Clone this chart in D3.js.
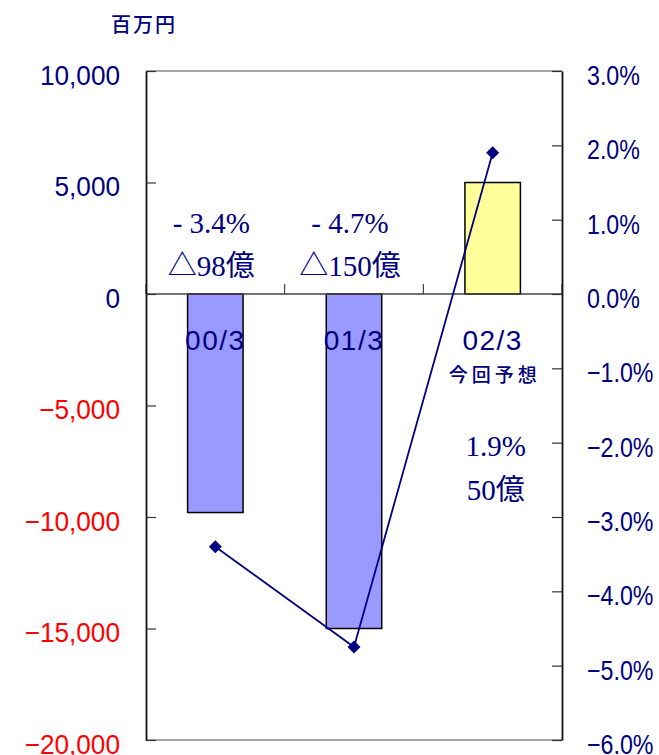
<!DOCTYPE html>
<html><head><meta charset="utf-8">
<script src="https://cdn.jsdelivr.net/npm/d3@7"></script>
<style>
body{margin:0;background:#fff;}
svg{display:block;}
</style></head>
<body>
<script>
// ---- data ----
const categories = ["00/3", "01/3", "02/3"];
const subLabels = ["", "", "今回予想"];
const profit = [-9800, -15000, 5000];          // 百万円
const ratio = [-3.4, -4.75, 1.9];               // %
const rateLabels = ["- 3.4%", "- 4.7%", "1.9%"];
const amountLabels = ["△98億", "△150億", "50億"];
const leftTicks = [10000, 5000, 0, -5000, -10000, -15000, -20000];
const rightTicks = [3, 2, 1, 0, -1, -2, -3, -4, -5, -6];
const barColors = ["#9999FF", "#9999FF", "#FFFF99"];

// ---- layout ----
const W = 659, H = 755;
const L = 146, R = 562, T = 71, B = 740;
const navy = "#000080";

const svg = d3.select("body").append("svg").attr("width", W).attr("height", H);

const x = d3.scaleBand().domain(categories).range([L, R]).paddingInner(0.6).paddingOuter(0.3);
const y = d3.scaleLinear().domain([-20000, 10000]).range([B, T]);
const y2 = d3.scaleLinear().domain([-6, 3]).range([B, T]);

// plot frame top/bottom
svg.append("line").attr("x1", L).attr("x2", R).attr("y1", T).attr("y2", T).attr("stroke", "#888").attr("stroke-width", 1.5);
svg.append("line").attr("x1", L).attr("x2", R).attr("y1", B).attr("y2", B).attr("stroke", "#888").attr("stroke-width", 1.5);

// bars
svg.selectAll("rect.bar").data(profit).join("rect").attr("class", "bar")
  .attr("x", (d, i) => x(categories[i]))
  .attr("width", x.bandwidth())
  .attr("y", d => y(Math.max(0, d)))
  .attr("height", d => Math.abs(y(d) - y(0)))
  .attr("fill", (d, i) => barColors[i])
  .attr("stroke", "#000").attr("stroke-width", 1.5);

// zero line + category ticks
svg.append("line").attr("x1", L).attr("x2", R).attr("y1", y(0)).attr("y2", y(0)).attr("stroke", "#444").attr("stroke-width", 1.5);
d3.range(categories.length + 1).forEach(i => {
  const xx = L + i * (R - L) / categories.length;
  svg.append("line").attr("x1", xx).attr("x2", xx).attr("y1", y(0)).attr("y2", y(0) - 10).attr("stroke", "#222").attr("stroke-width", 1);
});

// left axis
const gL = svg.append("g").attr("transform", `translate(${L},0)`)
  .call(d3.axisLeft(y).tickValues(leftTicks).tickFormat(d3.format(",")).tickSizeInner(-10).tickSizeOuter(0).tickPadding(26));
gL.select(".domain").attr("stroke", "#111").attr("stroke-width", 1.8);
gL.selectAll(".tick line").attr("stroke", "#333").attr("stroke-width", 1.2);
gL.selectAll(".tick text")
  .text(d => d < 0 ? "\u2212" + d3.format(",")(-d) : d3.format(",")(d))
  .attr("fill", d => d < 0 ? "#FF0000" : navy)
  .attr("x", 0).attr("transform", "translate(-26,0) scale(0.97,1.04)")
  .attr("dy", "0.48em")
  .style("font-family", "'Liberation Sans', Arial, sans-serif").style("font-size", "27px");

// right axis
const gR = svg.append("g").attr("transform", `translate(${R},0)`)
  .call(d3.axisRight(y2).tickValues(rightTicks).tickFormat(d => (d < 0 ? "\u2212" : "") + Math.abs(d).toFixed(1) + "%").tickSizeInner(-10).tickSizeOuter(0).tickPadding(25));
gR.select(".domain").attr("stroke", "#111").attr("stroke-width", 1.8);
gR.selectAll(".tick line").attr("stroke", "#333").attr("stroke-width", 1.2);
gR.selectAll(".tick text")
  .attr("x", 0).attr("transform", "translate(25,0) scale(0.86,1.04)")
  .attr("fill", navy).attr("dy", "0.48em")
  .style("font-family", "'Liberation Sans', Arial, sans-serif").style("font-size", "27px");

// line series
const lineGen = d3.line().x((d, i) => x(categories[i]) + x.bandwidth() / 2).y(d => y2(d));
svg.append("path").datum(ratio).attr("d", lineGen).attr("fill", "none").attr("stroke", navy).attr("stroke-width", 1.8);
svg.selectAll("path.mk").data(ratio).join("path").attr("class", "mk")
  .attr("d", d3.symbol().type(d3.symbolSquare).size(85))
  .attr("transform", (d, i) => `translate(${x(categories[i]) + x.bandwidth() / 2},${y2(d)}) rotate(45)`)
  .attr("fill", navy);

// category labels
const catG = svg.append("g").style("font-family", "'Liberation Sans', Arial, sans-serif").attr("fill", navy);
catG.selectAll("text.cat").data(categories).join("text").attr("class", "cat")
  .attr("x", d => x(d) + x.bandwidth() / 2).attr("y", y(0) + 56)
  .attr("text-anchor", "middle").style("font-size", "28px").style("letter-spacing", "1.5px")
  .text(d => d);
catG.selectAll("text.sub").data(subLabels).join("text").attr("class", "sub")
  .attr("x", (d, i) => x(categories[i]) + x.bandwidth() / 2 + 2).attr("y", y(0) + 88)
  .attr("text-anchor", "middle")
  .style("font-family", "'Noto Sans CJK JP', sans-serif").style("font-size", "19px").style("font-weight", "500").style("letter-spacing", "4px")
  .text(d => d);

// annotations
const annG = svg.append("g").attr("fill", navy)
  .style("font-family", "'Liberation Serif', 'Times New Roman', 'Noto Sans CJK JP', serif").style("font-size", "29px");
annG.selectAll("text.rate").data(rateLabels).join("text").attr("class", "rate")
  .attr("x", (d, i) => x(categories[i]) + x.bandwidth() / 2 + (i === 2 ? 3 : -4))
  .attr("y", (d, i) => i === 2 ? y(0) + 162 : y(0) - 61)
  .attr("text-anchor", "middle").text(d => d);
annG.selectAll("text.amt").data(amountLabels).join("text").attr("class", "amt")
  .attr("x", (d, i) => x(categories[i]) + x.bandwidth() / 2 + (i === 2 ? 3 : -4))
  .attr("y", (d, i) => i === 2 ? y(0) + 206 : y(0) - 18)
  .attr("text-anchor", "middle").text(d => d);

// unit label
svg.append("text").attr("x", 144).attr("y", 32).attr("text-anchor", "middle").attr("fill", navy)
  .style("font-family", "'Noto Sans CJK JP', sans-serif").style("font-size", "20px").style("font-weight", "500").style("letter-spacing", "2px")
  .text("百万円");
</script>
</body></html>
